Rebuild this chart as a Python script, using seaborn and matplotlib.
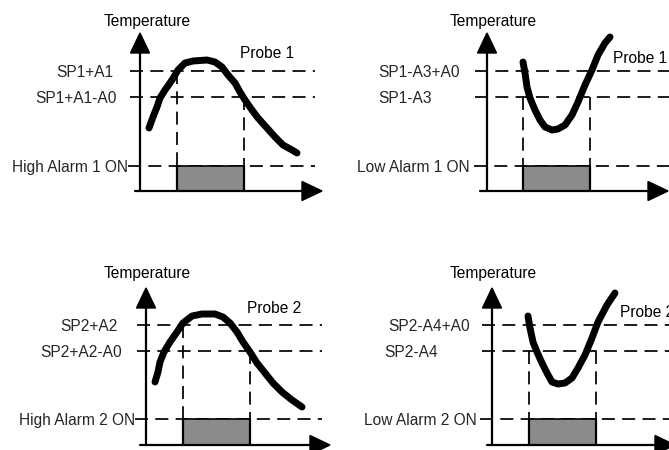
import numpy as np
import pandas as pd
import matplotlib
matplotlib.use("Agg")
import matplotlib.pyplot as plt
import seaborn as sns

# ---------------- data (pixel space of the 669x450 diagram) ----------------
PROBE_LABELS = ["Probe 1", "Probe 1", "Probe 2", "Probe 2"]
UPPER_LABELS = ["SP1+A1", "SP1-A3+A0", "SP2+A2", "SP2-A4+A0"]
LOWER_LABELS = ["SP1+A1-A0", "SP1-A3", "SP2+A2-A0", "SP2-A4"]
ALARM_LABELS = ["High Alarm 1 ON", "Low Alarm 1 ON", "High Alarm 2 ON", "Low Alarm 2 ON"]
AXIS_TITLE = "Temperature"

# probe temperature curves (one per panel)
CURVE_X = [
    [149, 153, 157, 160, 165, 172, 178, 185, 193, 207, 215, 222, 228, 235, 240, 245,
     252, 258, 267, 275, 283, 292, 297],
    [523, 525, 527, 530, 535, 540, 545, 552, 558, 565, 572, 578, 585, 592, 598, 605, 610],
    [155, 158, 160, 164, 170, 177, 183, 192, 202, 215, 223, 230, 237, 243, 250, 257,
     265, 273, 282, 292, 302],
    [528, 530, 533, 537, 542, 547, 552, 558, 565, 572, 578, 585, 592, 598, 607, 615],
]
CURVE_Y = [
    [128, 117, 107, 98, 90, 80, 70, 63, 61, 60, 62, 67, 75, 83, 92, 100,
     110, 118, 128, 137, 145, 150, 153],
    [62, 73, 87, 98, 110, 120, 127, 130, 129, 125, 115, 102, 85, 70, 55, 43, 37],
    [382, 372, 362, 352, 342, 332, 323, 316, 314, 314, 317, 323, 332, 342, 352, 363,
     373, 383, 392, 400, 407],
    [316, 328, 342, 352, 363, 373, 382, 384, 383, 378, 368, 355, 338, 322, 305, 293],
]

# threshold levels
UPPER_LEVEL = [71, 71, 325, 325]
LOWER_LEVEL = [97, 97, 351, 351]
ALARM_LEVEL = [166, 166, 419, 419]

# alarm on / off instants
ALARM_ON_X = [177, 523, 183, 529]
ALARM_OFF_X = [244, 590, 250, 596]
ALARM_ON_FROM = [71, 97, 325, 351]
ALARM_OFF_FROM = [97, 97, 351, 351]

# axes geometry
YAXIS_X = [140, 487, 146, 492]
YAXIS_TOP = [33, 33, 288, 288]
XAXIS_Y = [191, 191, 445, 445]
XAXIS_START = [135, 480, 140, 487]
XAXIS_TIP = [322, 668, 330, 675]
DASH_START = [130, 475, 137, 482]
DASH_END = [315, 669, 322, 669]
ALARM_DASH_START = [128, 474, 135, 480]

# text placement
TITLE_X = [147, 493, 147, 493]
TITLE_BASE = [26, 26, 278, 278]
PROBE_X = [240, 613, 247, 620]
PROBE_BASE = [58, 63, 313, 317]
UPPER_RIGHT = [113, 460, 118, 470]
LOWER_RIGHT = [117, 432, 122, 438]
ALARM_RIGHT = [128, 470, 135, 477]

# ---------------- drawing ----------------
sns.set_theme(style="white")
plt.rcParams["font.family"] = ["Liberation Sans", "DejaVu Sans"]

fig = plt.figure(figsize=(6.69, 4.5), dpi=100)
ax = fig.add_axes([0, 0, 1, 1])
ax.set_xlim(0, 669)
ax.set_ylim(450, 0)
ax.axis("off")

FS = 11.2
DASH = (0, (7.5, 4.2))
LW_DASH = 1.25
LW_AXIS = 1.6
HEAD_L, HEAD_W = 20, 9.5
CAP = 5.6  # half cap height in px

for i in range(4):
    # dashed threshold lines
    for lvl, x0 in ((UPPER_LEVEL[i], DASH_START[i]), (LOWER_LEVEL[i], DASH_START[i]),
                    (ALARM_LEVEL[i], ALARM_DASH_START[i])):
        ax.plot([x0, DASH_END[i]], [lvl, lvl], color="black", lw=LW_DASH, ls=DASH, zorder=2)
    # vertical dashed lines
    ax.plot([ALARM_ON_X[i]] * 2, [ALARM_ON_FROM[i], XAXIS_Y[i]], color="black", lw=LW_DASH, ls=DASH, zorder=2)
    ax.plot([ALARM_OFF_X[i]] * 2, [ALARM_OFF_FROM[i], XAXIS_Y[i]], color="black", lw=LW_DASH, ls=DASH, zorder=2)
    # alarm ON bar
    ax.fill_between([ALARM_ON_X[i], ALARM_OFF_X[i]], ALARM_LEVEL[i], XAXIS_Y[i],
                    facecolor="#8b8b8b", edgecolor="black", lw=1.2, zorder=3)
    ax.plot([ALARM_ON_X[i]] * 2, [ALARM_LEVEL[i], XAXIS_Y[i]], color="black", lw=1.6, zorder=4)
    ax.plot([ALARM_OFF_X[i]] * 2, [ALARM_LEVEL[i], XAXIS_Y[i]], color="black", lw=1.6, zorder=4)

    # axes with arrow heads
    ax.plot([YAXIS_X[i]] * 2, [YAXIS_TOP[i] + HEAD_L - 2, XAXIS_Y[i]], color="black", lw=LW_AXIS, zorder=5)
    ax.fill([YAXIS_X[i] - HEAD_W, YAXIS_X[i] + HEAD_W, YAXIS_X[i]],
            [YAXIS_TOP[i] + HEAD_L, YAXIS_TOP[i] + HEAD_L, YAXIS_TOP[i]], color="black", zorder=5)
    ax.plot([XAXIS_START[i], XAXIS_TIP[i] - HEAD_L + 2], [XAXIS_Y[i]] * 2, color="black", lw=LW_AXIS, zorder=5)
    ax.fill([XAXIS_TIP[i] - HEAD_L, XAXIS_TIP[i] - HEAD_L, XAXIS_TIP[i]],
            [XAXIS_Y[i] - HEAD_W, XAXIS_Y[i] + HEAD_W, XAXIS_Y[i]], color="black", zorder=5)

    # probe curve
    df = pd.DataFrame({"x": CURVE_X[i], "y": CURVE_Y[i]})
    sns.lineplot(data=df, x="x", y="y", ax=ax, sort=False, color="black", lw=5.0,
                 solid_capstyle="round", solid_joinstyle="round", zorder=6)

    # texts
    ax.text(TITLE_X[i], TITLE_BASE[i], AXIS_TITLE, ha="center", va="baseline", fontsize=FS, color="black")
    ax.text(PROBE_X[i], PROBE_BASE[i], PROBE_LABELS[i], ha="left", va="baseline", fontsize=FS, color="black")
    ax.text(UPPER_RIGHT[i], UPPER_LEVEL[i] + CAP, UPPER_LABELS[i], ha="right", va="baseline", fontsize=FS)
    ax.text(LOWER_RIGHT[i], LOWER_LEVEL[i] + CAP, LOWER_LABELS[i], ha="right", va="baseline", fontsize=FS)
    ax.text(ALARM_RIGHT[i], ALARM_LEVEL[i] + CAP, ALARM_LABELS[i], ha="right", va="baseline", fontsize=FS)

ax.set_xlabel("")
ax.set_ylabel("")
fig.savefig("out.png", dpi=100, facecolor="white")
